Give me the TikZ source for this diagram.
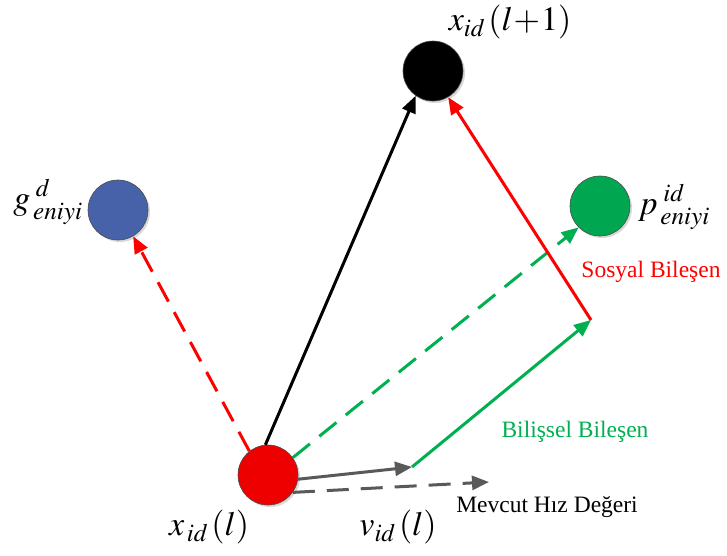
\documentclass[tikz,border=0pt]{standalone}
\usepackage{mathptmx}
\usepackage{fontspec}
\setmainfont{Liberation Serif}
\usetikzlibrary{arrows.meta,shadows}
\definecolor{cred}{HTML}{EE0000}
\definecolor{cblue}{HTML}{4762A8}
\definecolor{cgreen}{HTML}{00A650}
\definecolor{agreen}{HTML}{00B050}
\definecolor{cgray}{HTML}{595959}
\begin{document}
\begin{tikzpicture}[x=1pt,y=-1pt,
  ball/.style={circle,minimum size=60pt,inner sep=0pt,draw=black!70,line width=0.6pt,
    drop shadow={shadow xshift=2pt,shadow yshift=-2pt,fill=black!25,opacity=0.6}},
  vec/.style={line width=3pt,-{Triangle[length=17pt,width=14pt]}},
  dvec/.style={vec,dash pattern=on 22pt off 12pt},
  mlab/.style={font=\fontsize{34}{36}\selectfont,inner sep=0pt},
  tlab/.style={font=\fontsize{23.5}{25}\selectfont,inner sep=0pt}]
\useasboundingbox (0,0) rectangle (727,555);
\node[ball,fill=cred] (xi) at (268,475) {};
\node[ball,fill=black] (xn) at (433,71) {};
\node[ball,fill=cblue] (g) at (118,210) {};
\node[ball,fill=cgreen] (p) at (600,206) {};
\coordinate (v) at (412,467);
\coordinate (c) at (591,320);
\coordinate (m) at (489,482);
% vectors
\draw[vec,black] (xi.95) -- (xn.235);
\draw[dvec,red] (xi.128) -- (g.300);
\draw[dvec,agreen] (xi.35) -- (p.225);
\draw[vec,agreen] (v) -- (c);
\draw[vec,red] (c) -- (xn.300);
\draw[vec,cgray] (xi.-8) -- (v);
\draw[dvec,cgray] (xi.-35) -- (m);
% labels
\node[mlab] (lxi) at (209,527) {$x_{\,\mathit{id}}\,(l)$};
\node[mlab] (lv) at (398,527) {$v_{\mathit{id}}\,(l)$};
\node[mlab] (lxn) at (510,22) {$x_{\mathit{id}}\,(l\!+\!1)$};
\node[mlab] (lg) at (48,202) {$g_{\,\mathit{eniyi}}^{\;d}$};
\node[mlab] (lp) at (674,207) {$p_{\,\mathit{eniyi}}^{\;\mathit{id}}$};
\node[tlab,text=red] (ls) at (651,272) {Sosyal Bileşen};
\node[tlab,text=agreen] (lb) at (575,432) {Bilişsel Bileşen};
\node[tlab,text=black] (lm) at (547,507) {Mevcut Hız Değeri};
\end{tikzpicture}
\end{document}
